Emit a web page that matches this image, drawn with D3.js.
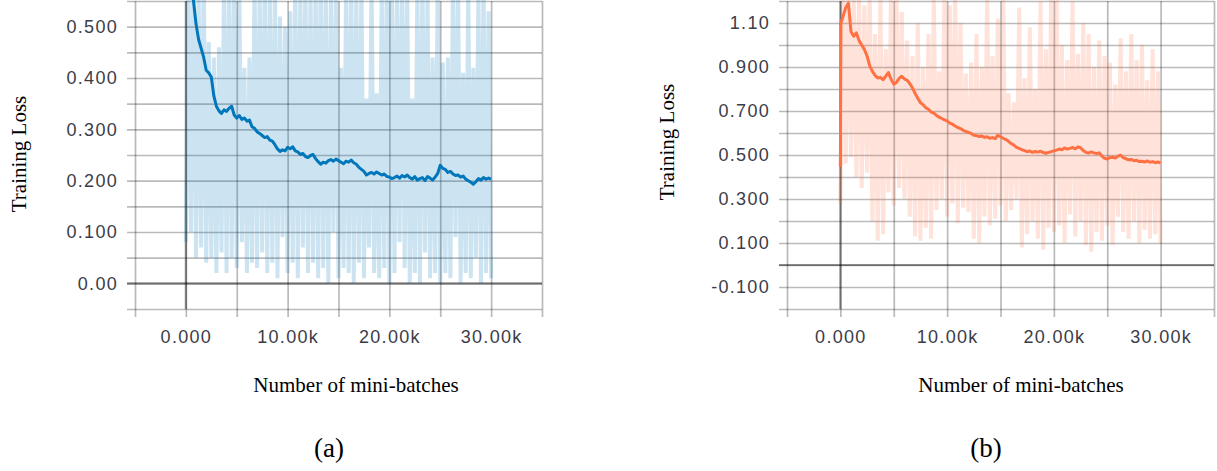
<!DOCTYPE html>
<html>
<head>
<meta charset="utf-8">
<script src="https://cdn.jsdelivr.net/npm/d3@7"></script>
<style>
   html, body { margin: 0; padding: 0; background: #fff; }
   svg { display: block; }
   .tick text { font-family: "Liberation Sans", Arial, sans-serif; font-size: 18px; letter-spacing: 1.3px; fill: #3c3c48; }
   .title { font-family: "Liberation Serif", "Times New Roman", serif; fill: #000; }
</style>
</head>
<body>
<svg id="chart" width="1217" height="471"></svg>
<script>
// x axis (mini-batches)
const xGrid = [-5000, 0, 5000, 10000, 15000, 20000, 25000, 30000, 35000];
const xTickVals = [0, 10000, 20000, 30000];
const xTickLabels = ["0.000", "10.00k", "20.00k", "30.00k"];

// raw loss, one value every 250 mini-batches (0 .. 30000)
const rawLossA = [
   0.08, 0.62, 0.10, 0.60, 0.05, 0.58, 0.07, 0.61, 0.04, 0.47,
   0.05, 0.44, 0.02, 0.46, 0.06, 0.60, 0.02, 0.59, 0.05, 0.62,
   0.03, 0.58, 0.08, 0.42, 0.02, 0.44, 0.04, 0.60, 0.03, 0.58,
   0.06, 0.61, 0.02, 0.57, 0.04, 0.59, 0.01, 0.52, 0.09, 0.50,
   0.02, 0.53, 0.04, 0.60, 0.01, 0.58, 0.07, 0.61, 0.02, 0.57,
   0.04, 0.60, 0.01, 0.62, 0.03, 0.58, 0.00, 0.56, 0.10, 0.60,
   0.01, 0.42, 0.03, 0.59, 0.02, 0.61, 0.00, 0.57, 0.04, 0.60,
   0.01, 0.36, 0.07, 0.60, 0.02, 0.37, 0.01, 0.58, 0.03, 0.61,
   0.00, 0.60, 0.02, 0.57, 0.08, 0.62, 0.03, 0.59, 0.00, 0.36,
   0.02, 0.58, 0.00, 0.61, 0.06, 0.56, 0.01, 0.44, 0.02, 0.60,
   0.00, 0.43, 0.02, 0.44, 0.01, 0.60, 0.09, 0.59, 0.00, 0.41,
   0.02, 0.58, 0.01, 0.42, 0.05, 0.57, 0.00, 0.60, 0.02, 0.53,
   0.01
];
const rawLossB = [
   0.28, 1.25, 0.46, 1.25, 0.49, 1.22, 0.40, 1.25, 0.35, 1.18,
   0.42, 1.25, 0.20, 1.05, 0.11, 1.22, 0.14, 0.98, 0.33, 1.25,
   0.27, 1.25, 0.35, 1.15, 0.30, 1.02, 0.22, 0.95, 0.13, 1.10,
   0.11, 0.90, 0.17, 1.05, 0.12, 1.22, 0.25, 0.88, 0.30, 1.25,
   0.22, 1.18, 0.28, 1.25, 0.19, 1.10, 0.26, 0.87, 0.24, 0.92,
   0.12, 1.05, 0.10, 0.90, 0.22, 1.25, 0.18, 0.95, 0.21, 1.12,
   0.27, 1.25, 0.20, 0.78, 0.25, 0.74, 0.30, 1.17, 0.08, 0.85,
   0.14, 1.08, 0.20, 0.80, 0.12, 1.20, 0.07, 0.98, 0.17, 1.25,
   0.15, 1.25, 0.18, 1.00, 0.10, 0.93, 0.23, 1.20, 0.13, 0.96,
   0.20, 1.10, 0.09, 1.05, 0.06, 0.90, 0.15, 1.02, 0.11, 0.95,
   0.18, 0.92, 0.09, 0.82, 0.22, 1.03, 0.15, 0.88, 0.12, 1.05,
   0.20, 0.93, 0.10, 1.00, 0.16, 0.84, 0.12, 0.98, 0.14, 0.88,
   0.10
];
const rawSteps = d3.range(0, 30001, 250);

// smoothed loss (a): every 250 mini-batches
const smoothLossA = [
   0.75, 0.68, 0.60, 0.55, 0.505, 0.475, 0.458, 0.44, 0.415, 0.41,
   0.402, 0.365, 0.345, 0.336, 0.331, 0.338, 0.335, 0.341, 0.345, 0.328,
   0.322, 0.327, 0.319, 0.322, 0.316, 0.318, 0.305, 0.302, 0.295, 0.292,
   0.288, 0.284, 0.286, 0.279, 0.277, 0.27, 0.262, 0.257, 0.26, 0.258,
   0.265, 0.262, 0.266, 0.258, 0.256, 0.251, 0.253, 0.247, 0.245, 0.249,
   0.251, 0.243, 0.237, 0.232, 0.236, 0.234, 0.239, 0.241, 0.238, 0.242,
   0.239, 0.236, 0.233, 0.238, 0.236, 0.24, 0.235, 0.232, 0.226, 0.222,
   0.218, 0.211, 0.214, 0.216, 0.213, 0.217, 0.214, 0.211, 0.213, 0.208,
   0.207, 0.204, 0.206, 0.209, 0.205, 0.21, 0.207, 0.211, 0.206, 0.203,
   0.208, 0.201, 0.204, 0.206, 0.2, 0.208, 0.205, 0.201, 0.207, 0.214,
   0.23, 0.224, 0.222, 0.216, 0.218, 0.213, 0.21, 0.211, 0.207, 0.209,
   0.203, 0.2, 0.197, 0.193, 0.198, 0.204, 0.201, 0.206, 0.203, 0.205,
   0.203
];
const smoothStepsA = d3.range(0, 30001, 250);

// smoothed loss (b): the jump at the start, then every 250 mini-batches
const smoothStepsB = [0, 50].concat(d3.range(250, 30001, 250));
const smoothLossB = [
   0.445, 1.10, 1.13, 1.17, 1.19, 1.06, 1.04, 1.055, 1.02, 1.0,
   0.98, 0.95, 0.905, 0.88, 0.862, 0.85, 0.853, 0.842, 0.858, 0.875,
   0.845, 0.822, 0.83, 0.848, 0.858, 0.845, 0.84, 0.825, 0.805, 0.78,
   0.758, 0.738, 0.728, 0.715, 0.708, 0.695, 0.69, 0.68, 0.672, 0.666,
   0.66, 0.655, 0.645, 0.64, 0.632, 0.625, 0.62, 0.612, 0.607, 0.603,
   0.598, 0.59, 0.588, 0.584, 0.586, 0.58, 0.583, 0.576, 0.579, 0.574,
   0.59, 0.583, 0.576, 0.57, 0.562, 0.552, 0.545, 0.535, 0.53, 0.524,
   0.52, 0.515, 0.518, 0.512, 0.516, 0.513, 0.517, 0.511, 0.508, 0.512,
   0.515, 0.519, 0.522, 0.527, 0.524, 0.532, 0.527, 0.53, 0.534, 0.528,
   0.537, 0.533, 0.52, 0.512, 0.509, 0.514, 0.51, 0.506, 0.51, 0.495,
   0.485, 0.482, 0.488, 0.49, 0.486, 0.495, 0.499, 0.488, 0.483, 0.478,
   0.48, 0.474, 0.476, 0.47, 0.472, 0.468, 0.473, 0.467, 0.47, 0.465,
   0.468, 0.464
];

// y axes
const yGridA = [-0.05, 0, 0.05, 0.1, 0.15, 0.2, 0.25, 0.3, 0.35, 0.4, 0.45, 0.5, 0.55];
const yTickValsA = [0, 0.1, 0.2, 0.3, 0.4, 0.5];
const yTickLabelsA = ["0.00", "0.100", "0.200", "0.300", "0.400", "0.500"];
const yGridB = [-0.2, -0.1, 0, 0.1, 0.2, 0.3, 0.4, 0.5, 0.6, 0.7, 0.8, 0.9, 1.0, 1.1, 1.2];
const yTickValsB = [-0.1, 0.1, 0.3, 0.5, 0.7, 0.9, 1.1];
const yTickLabelsB = ["-0.100", "0.100", "0.300", "0.500", "0.700", "0.900", "1.10"];

const svg = d3.select("#chart");
svg.append("rect").attr("width", 1217).attr("height", 471).attr("fill", "#fff");

function labelFor(v, vals, labels) {
   const i = vals.findIndex(t => Math.abs(t - v) < 1e-9);
   return i < 0 ? "" : labels[i];
}

function drawPanel(p) {
   const top = 1, bottom = 309;
   const x = d3.scaleLinear().domain([-5000, 35000]).range(p.xRange);
   const y = d3.scaleLinear().domain(p.yDomain).range([bottom, top]);
   const [x0, x1] = p.xRange;
   const g = svg.append("g");

   // horizontal grid + y labels
   g.append("g")
      .attr("transform", `translate(${x0 - 8},0)`)
      .call(d3.axisLeft(y)
         .tickValues(p.yGrid)
         .tickSize(-(x1 - x0 + 8))
         .tickPadding(9)
         .tickFormat(v => labelFor(v, p.yTickVals, p.yTickLabels)))
      .call(a => a.select(".domain").remove())
      .call(a => a.selectAll(".tick line").attr("stroke", "#000").attr("stroke-opacity", 0.27).attr("stroke-width", 1.7));

   // vertical grid + x labels
   g.append("g")
      .attr("transform", `translate(0,${bottom + 8})`)
      .call(d3.axisBottom(x)
         .tickValues(xGrid)
         .tickSize(-(bottom + 8 - top))
         .tickPadding(13)
         .tickFormat(v => labelFor(v, xTickVals, xTickLabels)))
      .call(a => a.select(".domain").remove())
      .call(a => a.selectAll(".tick line").attr("stroke", "#000").attr("stroke-opacity", 0.27).attr("stroke-width", 1.7));

   // zero lines
   g.append("line")
      .attr("x1", x0 - 8).attr("x2", x1)
      .attr("y1", y(0)).attr("y2", y(0))
      .attr("stroke", "#000").attr("stroke-opacity", 0.42).attr("stroke-width", 2.2);
   g.append("line")
      .attr("x1", x(0)).attr("x2", x(0))
      .attr("y1", top).attr("y2", bottom)
      .attr("stroke", "#000").attr("stroke-opacity", 0.42).attr("stroke-width", 2.2);

   const clipId = "clip-" + p.id;
   svg.append("clipPath").attr("id", clipId)
      .append("rect")
      .attr("x", x0).attr("y", 0)
      .attr("width", x1 - x0).attr("height", bottom);

   const plot = g.append("g").attr("clip-path", `url(#${clipId})`);

   const raw = p.raw.map((v, i) => [rawSteps[i], v]);
   plot.append("path")
      .datum(raw)
      .attr("fill", "none")
      .attr("stroke", p.color)
      .attr("stroke-opacity", 0.2)
      .attr("stroke-width", 4)
      .attr("stroke-linejoin", "bevel")
      .attr("d", d3.line().x(d => x(d[0])).y(d => y(d[1])));

   const smooth = p.smoothSteps.map((s, i) => [s, p.smooth[i]]);
   plot.append("path")
      .datum(smooth)
      .attr("fill", "none")
      .attr("stroke", p.color)
      .attr("stroke-width", 3)
      .attr("stroke-linejoin", "round")
      .attr("d", d3.line().x(d => x(d[0])).y(d => y(d[1])));

   // titles
   g.append("text")
      .attr("class", "title")
      .attr("transform", `translate(${p.yTitle[0]},${p.yTitle[1]}) rotate(-90)`)
      .attr("text-anchor", "middle")
      .attr("font-size", 21)
      .text("Training Loss");

   g.append("text")
      .attr("class", "title")
      .attr("x", p.xTitleX).attr("y", 392)
      .attr("text-anchor", "middle")
      .attr("font-size", 21)
      .text("Number of mini-batches");

   g.append("text")
      .attr("class", "title")
      .attr("x", p.capX).attr("y", 457)
      .attr("text-anchor", "middle")
      .attr("font-size", 27)
      .text(p.caption);
}

drawPanel({
   id: "a", xRange: [135, 542], yDomain: [-0.05, 0.55],
   yGrid: yGridA, yTickVals: yTickValsA, yTickLabels: yTickLabelsA,
   raw: rawLossA, smoothSteps: smoothStepsA, smooth: smoothLossA,
   color: "#0077bb", yTitle: [26, 154], xTitleX: 356, capX: 329, caption: "(a)"
});

drawPanel({
   id: "b", xRange: [787, 1214], yDomain: [-0.2, 1.2],
   yGrid: yGridB, yTickVals: yTickValsB, yTickLabels: yTickLabelsB,
   raw: rawLossB, smoothSteps: smoothStepsB, smooth: smoothLossB,
   color: "#ff7043", yTitle: [674, 142], xTitleX: 1021, capX: 986, caption: "(b)"
});
</script>
</body>
</html>
